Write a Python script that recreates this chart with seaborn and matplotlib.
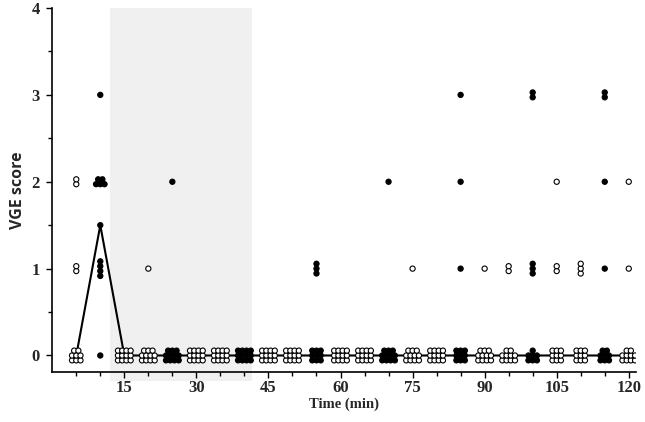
import numpy as np
import pandas as pd
import seaborn as sns
import matplotlib.pyplot as plt

# Time points (min) and which ones use filled markers
times = [5, 10, 15, 20, 25, 30, 35, 40, 45, 50, 55, 60,
         65, 70, 75, 80, 85, 90, 95, 100, 105, 110, 115, 120]
filled_times = [10, 25, 40, 55, 70, 85, 100, 115]
n_subjects = 12

# Non-zero VGE scores at each time point (remaining subjects scored 0)
nonzero_scores = [
    [2, 2, 1, 1],
    [3, 2, 2, 2, 2, 2, 1.5, 1, 1, 1, 1],
    [], [1], [2], [], [], [], [], [],
    [1, 1, 1], [], [], [2], [1], [],
    [3, 2, 1], [1], [1, 1], [3, 3, 1, 1, 1],
    [2, 1, 1], [1, 1, 1], [3, 3, 2, 1], [2, 1],
]

# Median VGE score line
median_scores = [0, 1.5] + [0] * 22

# Shaded period (min)
shade_start, shade_end = 12, 41.5


def cluster_offsets(k):
    # arrange k points of the same value in a small grid around the value
    ncol = 1 if k <= 4 else (3 if k <= 9 else 4)
    nrow = int(np.ceil(k / ncol))
    out = []
    for r in range(nrow):
        in_row = min(ncol, k - r * ncol)
        for c in range(in_row):
            out.append((c - (in_row - 1) / 2, r - (nrow - 1) / 2))
    return out


dx, dy = 0.88, 0.056
rows = []
for t, scores in zip(times, nonzero_scores):
    all_scores = list(scores) + [0] * (n_subjects - len(scores))
    kind = 'filled' if t in filled_times else 'open'
    for val in sorted(set(all_scores)):
        k = all_scores.count(val)
        for ox, oy in cluster_offsets(k):
            rows.append({'time': t + ox * dx, 'score': val + oy * dy, 'kind': kind})
df = pd.DataFrame(rows)

sns.set_style('ticks')
fig, ax = plt.subplots(figsize=(6.45, 4.22), dpi=100)
fig.subplots_adjust(left=0.081, right=0.986, bottom=0.1185, top=0.981)

ax.axvspan(shade_start, shade_end, ymin=-0.025, ymax=1, color='#f0f0f0',
           clip_on=False, zorder=0, lw=0)

sns.lineplot(x=times, y=median_scores, color='black', lw=1.5, ax=ax, zorder=2)
sns.scatterplot(data=df, x='time', y='score', hue='kind',
                palette={'open': 'white', 'filled': 'black'},
                edgecolor='black', linewidth=0.8, s=14, legend=False,
                ax=ax, zorder=3)

ax.set_xlim(0, 121.5)
ax.set_ylim(-0.19, 4.0)
ax.set_xticks(range(15, 121, 15))
ax.set_xticks(range(5, 121, 5), minor=True)
ax.set_yticks(range(0, 5))
ax.set_yticks(np.arange(0.5, 4, 1), minor=True)

for sp in ['top', 'right']:
    ax.spines[sp].set_visible(False)
for sp in ['left', 'bottom']:
    ax.spines[sp].set_color('black')
    ax.spines[sp].set_linewidth(1.2)

ax.tick_params(which='both', direction='out', color='black', width=1.0)
ax.tick_params(which='major', length=4)
ax.tick_params(axis='x', which='major', pad=2)
ax.tick_params(axis='y', which='major', pad=5)
ax.tick_params(which='minor', length=3)
for lab in ax.get_xticklabels() + ax.get_yticklabels():
    lab.set_fontfamily('Liberation Serif')
    lab.set_fontweight('bold')
    lab.set_fontsize(12)

ax.set_xlabel('Time (min)', fontfamily='Liberation Serif', fontweight='bold',
              fontsize=10.5, labelpad=1)
ax.set_ylabel('VGE score', fontfamily='Open Sans', fontweight='bold',
              fontsize=11.5, labelpad=4)

plt.savefig('out.png', dpi=100)
